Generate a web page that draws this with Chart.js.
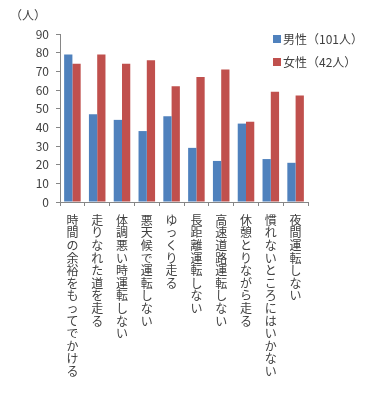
<!DOCTYPE html>
<html>
<head>
<meta charset="utf-8">
<script src="https://cdn.jsdelivr.net/npm/chart.js@4"></script>
<style>
html,body{margin:0;padding:0;background:#fff;}
canvas{display:block;}
</style>
</head>
<body>
<canvas id="c" width="383" height="404"></canvas>
<script>
const categories = ["時間の余裕をもってでかける","走りなれた道を走る","体調悪い時運転しない","悪天候で運転しない","ゆっくり走る","長距離運転しない","高速道路運転しない","休憩とりながら走る","慣れないところにはいかない","夜間運転しない"];
const maleLabel = "男性（101人）";
const femaleLabel = "女性（42人）";
const maleValues = [79, 47, 44, 38, 46, 29, 22, 42, 23, 21];
const femaleValues = [74, 79, 74, 76, 62, 67, 71, 43, 59, 57];
const yTicks = [0,10,20,30,40,50,60,70,80,90];
const unitLabel = "（人）";

const FONT = '"Noto Sans CJK JP", "Noto Sans", sans-serif';
const TEXT = '#404040';
const AXIS = '#868686';

const overlay = {
  id: 'overlay',
  afterDraw(chart) {
    const ctx = chart.ctx;
    ctx.save();
    ctx.font = '12px ' + FONT;
    ctx.fillStyle = TEXT;
    ctx.textBaseline = 'middle';
    ctx.textAlign = 'left';
    ctx.fillText(unitLabel, 10, 15);
    chart.data.datasets.forEach((ds, i) => {
      const y = 39 + i * 23;
      ctx.fillStyle = ds.backgroundColor;
      ctx.fillRect(273, y - 4, 8, 8);
      ctx.fillStyle = TEXT;
      ctx.fillText(ds.label, 283, y);
    });
    ctx.restore();
  }
};

new Chart(document.getElementById('c'), {
  type: 'bar',
  data: {
    labels: categories.map(s => Array.from(s)),
    datasets: [
      { label: maleLabel, data: maleValues, backgroundColor: '#4F81BD', borderWidth: 0 },
      { label: femaleLabel, data: femaleValues, backgroundColor: '#C0504D', borderWidth: 0 }
    ]
  },
  options: {
    responsive: false,
    devicePixelRatio: 1,
    animation: false,
    layout: { padding: { left: 0, right: 75, top: 34, bottom: 0 } },
    plugins: { legend: { display: false }, tooltip: { enabled: false } },
    datasets: { bar: { categoryPercentage: 0.667, barPercentage: 1.0 } },
    scales: {
      x: {
        offset: true,
        grid: { offset: true, drawOnChartArea: false, tickLength: 4, color: AXIS },
        border: { color: AXIS },
        ticks: { maxRotation: 0, minRotation: 0, autoSkip: false, color: TEXT, padding: 8,
                 font: { family: FONT, size: 12, lineHeight: 1.05 } },
        afterFit(s) { s.height = 202; }
      },
      y: {
        min: 0, max: 90,
        afterBuildTicks(s) { s.ticks = yTicks.map(v => ({ value: v })); },
        grid: { drawOnChartArea: false, tickLength: 4, color: AXIS },
        border: { color: AXIS },
        ticks: { color: TEXT, padding: 7, font: { family: FONT, size: 12 } },
        afterFit(s) { s.width = 60; }
      }
    }
  },
  plugins: [overlay]
});
</script>
</body>
</html>
